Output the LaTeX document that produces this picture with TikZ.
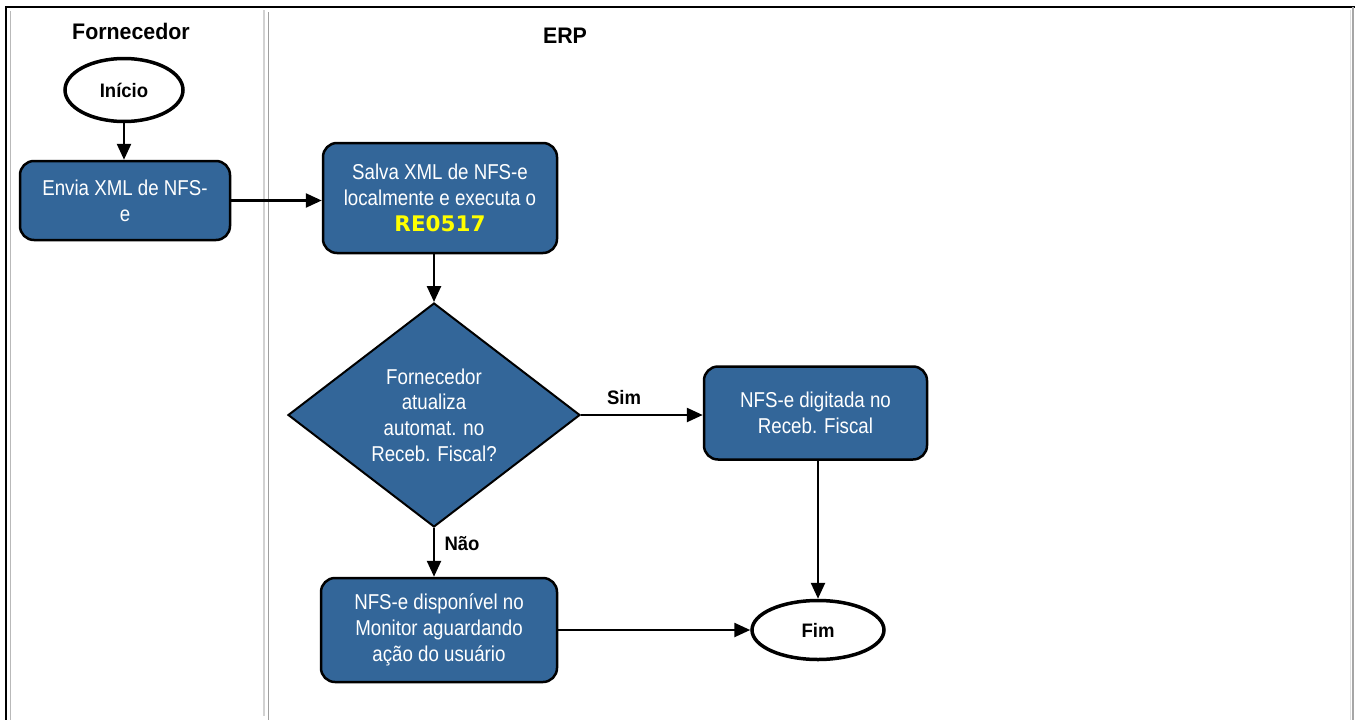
\documentclass[tikz,border=0pt]{standalone}
\usepackage{fontspec}
\setmainfont{Liberation Sans}
\newfontfamily\narrowf[FakeStretch=0.87]{Liberation Sans}
\newfontfamily\boldf[FakeStretch=0.95]{Liberation Sans}
\newfontfamily\codef{DejaVu Sans}
\usetikzlibrary{arrows.meta,shapes.geometric}
\definecolor{boxblue}{RGB}{51,102,153}
\definecolor{codeyellow}{RGB}{255,255,0}
\tikzset{
  proc/.style={draw=black, line width=2.5pt, fill=boxblue, rounded corners=14pt,
    text=white, font=\narrowf\fontsize{21.5}{26}\selectfont, align=center, inner sep=0pt},
  term/.style={ellipse, draw=black, line width=3.5pt, fill=white, inner sep=0pt,
    font=\boldf\bfseries\fontsize{19.5}{22}\selectfont},
  dec/.style={diamond, draw=black, line width=2pt, fill=boxblue, inner sep=0pt,
    text=white, font=\narrowf\fontsize{21.5}{25.7}\selectfont, align=center},
  lbl/.style={font=\boldf\bfseries\fontsize{19.5}{22}\selectfont, inner sep=0pt},
  head/.style={font=\boldf\bfseries\fontsize{22.5}{26}\selectfont, inner sep=0pt},
  conn/.style={line width=2.5pt, -{Triangle[length=16pt,width=14pt]}},
}
\begin{document}
\begin{tikzpicture}[x=1pt,y=-1pt]
\useasboundingbox (0,0) rectangle (1357,720);
% frame and lanes
\draw[line width=2.5pt] (5,7) -- (1355,7);
\draw[line width=2pt] (6,6) -- (6,720);
\draw[gray!55, line width=1pt] (10,11) -- (10,720);
\draw[gray!70, line width=2pt] (1353,7) -- (1353,720);
\draw[gray!25, line width=1pt] (1350,10) -- (1350,720);
\draw[gray!35, line width=1.2pt] (264,10) -- (264,716);
\draw[gray!75, line width=1.6pt] (268.5,12) -- (268.5,720);
% headers
\node[head] (hforn) at (131,31) {Fornecedor};
\node[head] (herp) at (565,36) {ERP};
% nodes
\node[term, minimum width=118pt, minimum height=63pt] (inicio) at (124,90) {Início};
\node[proc, minimum width=210pt, minimum height=79pt] (envia) at (125,200.5) {Envia XML de NFS-\\e};
\node[proc, minimum width=234pt, minimum height=110pt] (salva) at (440,198)
  {Salva XML de NFS-e\\localmente e executa o\\{\codef\bfseries\fontsize{21.5}{26}\selectfont\color{codeyellow}RE0517}};
\node[dec, minimum width=292pt, minimum height=224pt] (dec) at (434,415)
  {Fornecedor\\atualiza\\automat. no\\Receb. Fiscal?};
\node[proc, minimum width=223pt, minimum height=93pt] (digit) at (815.5,413) {NFS-e digitada no\\Receb. Fiscal};
\node[proc, minimum width=236pt, minimum height=104pt] (monit) at (439,630)
  {NFS-e disponível no\\Monitor aguardando\\ação do usuário};
\node[term, minimum width=132pt, minimum height=59pt] (fim) at (818,630) {Fim};
% labels
\node[lbl] (sim) at (624,398) {Sim};
\node[lbl] (nao) at (462,544) {Não};
% connectors
\draw[conn] (inicio.south) -- (envia.north -| inicio.south);
\draw[conn] (envia.east) -- (envia.east -| salva.west);
\draw[conn] (salva.south -| dec.north) -- (dec.north);
\draw[conn] (dec.east) -- (dec.east -| digit.west);
\draw[conn] (dec.south) -- (monit.north -| dec.south);
\draw[conn] (digit.south -| fim.north) -- (fim.north);
\draw[conn] (monit.east) -- (fim.west);
\end{tikzpicture}
\end{document}
